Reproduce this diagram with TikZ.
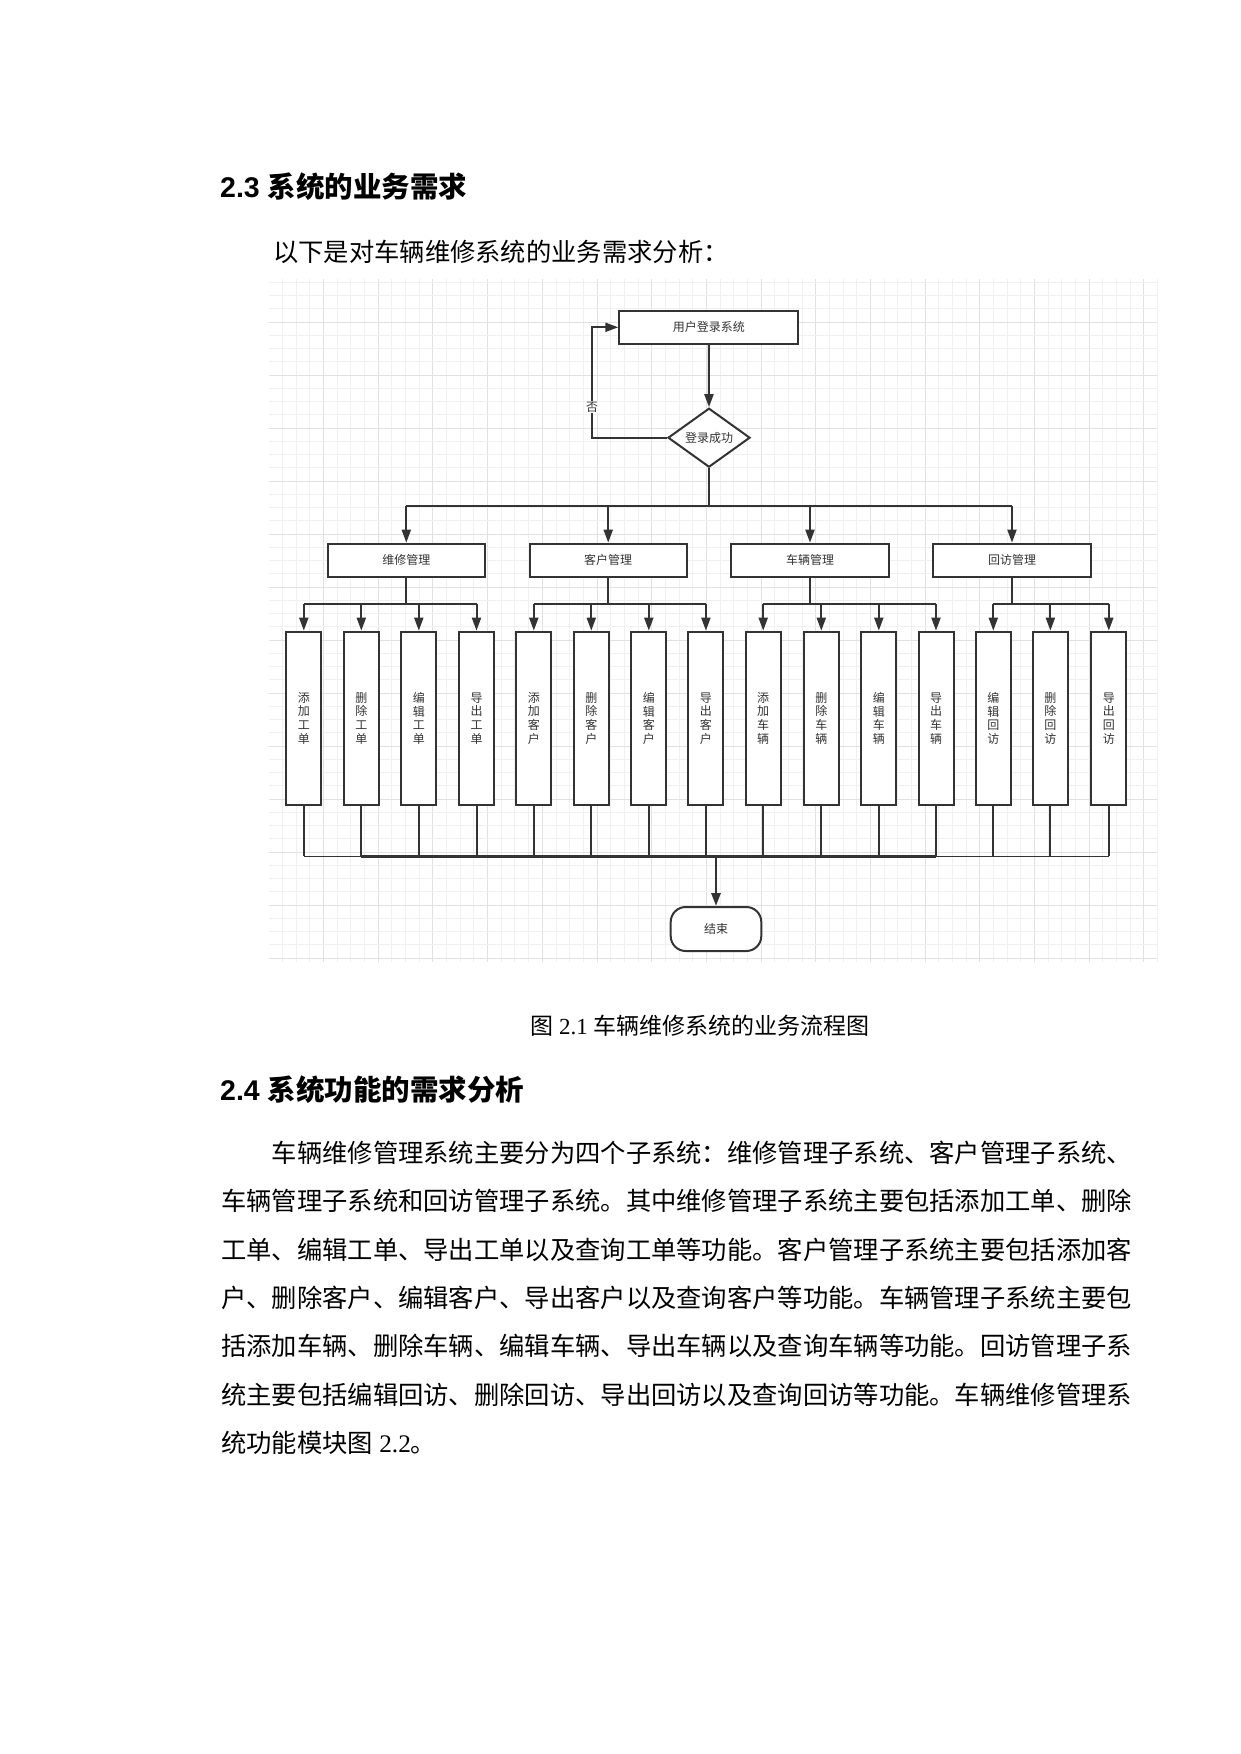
\documentclass[tikz,border=0pt]{standalone}
\usepackage{fontspec}
\setmainfont{Noto Sans CJK SC}
\newfontfamily\lsans{Liberation Sans}
\newfontfamily\lserif{Liberation Serif}
\usetikzlibrary{arrows.meta,shapes.geometric}
\definecolor{ink}{HTML}{333333}
\definecolor{gmin}{HTML}{F0F0F0}
\definecolor{gmaj}{HTML}{E1E1E1}
\tikzset{
  box/.style={draw=ink, line width=2pt, fill=white, text=ink, font=\fontsize{12}{14}\selectfont, inner sep=0pt},
  leaf/.style={box, minimum width=35pt, minimum height=173.3pt, align=center, font=\fontsize{12}{13.7}\selectfont},
  grp/.style={box, minimum width=157.3pt, minimum height=33.3pt},
  ln/.style={draw=ink, line width=2pt},
  arr/.style={draw=ink, line width=2pt, -{Triangle[length=13pt,width=9pt]}},
  body/.style={anchor=base west, inner sep=0pt, font=\fontsize{25.3}{30}\selectfont},
  head/.style={anchor=base west, inner sep=0pt, font=\fontsize{28.5}{32}\selectfont\bfseries}
}
\begin{document}
\begin{tikzpicture}[x=1pt,y=-1pt]
\fill[white] (0,0) rectangle (1240,1754);
\useasboundingbox (0,0) rectangle (1240,1754);
% grid
\foreach \i in {0,...,64}{
  \pgfmathsetmacro\xx{282.6+13.67*\i}
  \pgfmathtruncatemacro\m{mod(\i,4)}
  \ifnum\m=3 \draw[gmaj, line width=1pt] (\xx,279) -- (\xx,962);
  \else \draw[gmin, line width=1pt] (\xx,279) -- (\xx,962); \fi
}
\foreach \i in {0,...,51}{
  \pgfmathsetmacro\yy{282.3+13.25*\i}
  \pgfmathtruncatemacro\m{mod(\i,4)}
  \ifnum\m=3 \draw[gmaj, line width=1pt] (269,\yy) -- (1157,\yy);
  \else \draw[gmin, line width=1pt] (269,\yy) -- (1157,\yy); \fi
}
% texts
\node[head] (h1) at (220,197) {{\lsans\bfseries 2.3 }系统的业务需求};
\node[body] (sub) at (273,261.6) {以下是对车辆维修系统的业务需求分析：};
\node[anchor=base, inner sep=0pt, font=\fontsize{23}{26}\selectfont] (cap) at (700,1034) {图{\lserif\ 2.1\ }车辆维修系统的业务流程图};
\node[head] (h2) at (220,1100.8) {{\lsans\bfseries 2.4 }系统功能的需求分析};
\node[body] (p1) at (271.6,1162.6) {车辆维修管理系统主要分为四个子系统：维修管理子系统、客户管理子系统、};
\node[body] (p2) at (221,1210.9) {车辆管理子系统和回访管理子系统。其中维修管理子系统主要包括添加工单、删除};
\node[body] (p3) at (221,1259.2) {工单、编辑工单、导出工单以及查询工单等功能。客户管理子系统主要包括添加客};
\node[body] (p4) at (221,1307.5) {户、删除客户、编辑客户、导出客户以及查询客户等功能。车辆管理子系统主要包};
\node[body] (p5) at (221,1355.8) {括添加车辆、删除车辆、编辑车辆、导出车辆以及查询车辆等功能。回访管理子系};
\node[body] (p6) at (221,1404.1) {统主要包括编辑回访、删除回访、导出回访以及查询回访等功能。车辆维修管理系};
\node[body] (p7) at (221,1452.4) {统功能模块图{\lserif\ 2.2}。};
% diagram nodes
\node[box, minimum width=179pt, minimum height=33.3pt] (top) at (708.8,327.3) {用户登录系统};
\node[box, diamond, aspect=1.39, minimum width=82pt, minimum height=59pt] (dia) at (709,437.7) {登录成功};
\node[grp] (g1) at (406.3,560.3) {维修管理};
\node[grp] (g2) at (608.2,560.3) {客户管理};
\node[grp] (g3) at (810,560.3) {车辆管理};
\node[grp] (g4) at (1012,560.3) {回访管理};
\node[leaf] (l1) at (303.8,718.3) {添\\加\\工\\单};
\node[leaf] (l2) at (361.3,718.3) {删\\除\\工\\单};
\node[leaf] (l3) at (418.8,718.3) {编\\辑\\工\\单};
\node[leaf] (l4) at (476.5,718.3) {导\\出\\工\\单};
\node[leaf] (l5) at (533.8,718.3) {添\\加\\客\\户};
\node[leaf] (l6) at (591.3,718.3) {删\\除\\客\\户};
\node[leaf] (l7) at (648.8,718.3) {编\\辑\\客\\户};
\node[leaf] (l8) at (705.9,718.3) {导\\出\\客\\户};
\node[leaf] (l9) at (763.2,718.3) {添\\加\\车\\辆};
\node[leaf] (l10) at (821.3,718.3) {删\\除\\车\\辆};
\node[leaf] (l11) at (878.8,718.3) {编\\辑\\车\\辆};
\node[leaf] (l12) at (936,718.3) {导\\出\\车\\辆};
\node[leaf] (l13) at (993.3,718.3) {编\\辑\\回\\访};
\node[leaf] (l14) at (1050.4,718.3) {删\\除\\回\\访};
\node[leaf] (l15) at (1108.8,718.3) {导\\出\\回\\访};
\node[box, rounded corners=15pt, minimum width=90.6pt, minimum height=44pt] (end) at (716,929) {结束};
% connectors
\draw[arr] (top.south) -- (dia.north);
\coordinate (lp) at (592,437.7);
\draw[arr] (dia.west) -- (lp) |- (top.west);
\node[fill=white, text=ink, font=\fontsize{12}{14}\selectfont, inner sep=1pt] (no) at (592,407.3) {否};
\coordinate (tb) at (709,505.7);
\draw[ln] (dia.south) -- (tb);
\draw[ln] (g1.north |- tb) -- (g4.north |- tb);
\foreach \g in {g1,g2,g3,g4} \draw[arr] (\g.north |- tb) -- (\g.north);
\coordinate (sb) at (0,604);
\foreach \g/\a/\b in {g1/l1/l4, g2/l5/l8, g3/l9/l12, g4/l13/l15}{
  \draw[ln] (\g.south) -- (\g.south |- sb);
  \draw[ln] (\a.north |- sb) -- (\b.north |- sb);
}
\foreach \l in {l1,l2,l3,l4,l5,l6,l7,l8,l9,l10,l11,l12,l13,l14,l15}
  \draw[arr] (\l.north |- sb) -- (\l.north);
\coordinate (bb) at (0,856.3);
\foreach \l in {l1,l2,l3,l4,l5,l6,l7,l8,l9,l10,l11,l12,l13,l14,l15}
  \draw[ln] (\l.south) -- (\l.south |- bb);
\draw[ink, line width=1.4pt] (l1.south |- bb) -- (l15.south |- bb);
\draw[ink, line width=2.8pt] (l2.south |- bb) -- (l12.south |- bb);
\draw[arr, line width=2.8pt] (end.north |- bb) -- (end.north);
\end{tikzpicture}
\end{document}
